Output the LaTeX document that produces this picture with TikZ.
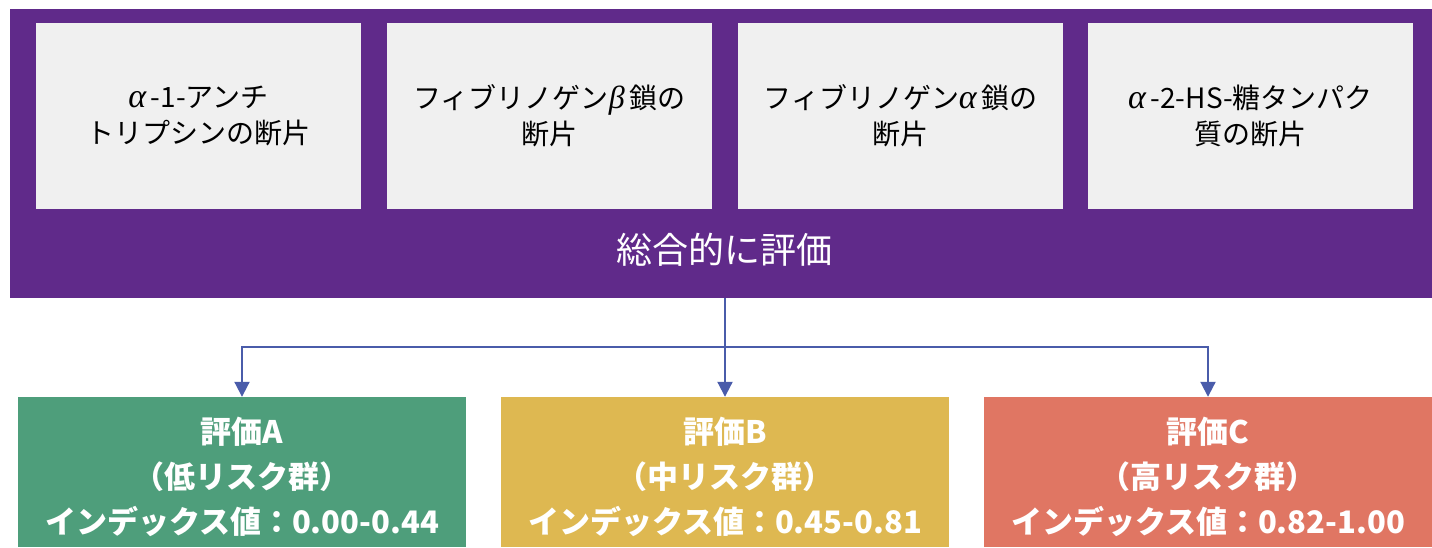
\documentclass[tikz,border=0pt]{standalone}
\usepackage{fontspec}
\setmainfont{Noto Sans CJK JP}
\newfontfamily\greekfont{Liberation Serif}
\usetikzlibrary{arrows.meta}
\definecolor{purpleA}{RGB}{96,42,138}
\definecolor{panelgray}{RGB}{240,240,240}
\definecolor{greenA}{RGB}{78,158,123}
\definecolor{yellowB}{RGB}{222,184,81}
\definecolor{salmonC}{RGB}{224,118,99}
\definecolor{linkblue}{RGB}{74,92,170}
\newcommand\galpha{{\greekfont\itshape\fontsize{34}{36}\selectfont α}\,}
\newcommand\gbeta{{\greekfont\itshape\fontsize{32}{36}\selectfont β}\,}
\newcommand\firstline{\rule{0pt}{37pt}}
\begin{document}
\begin{tikzpicture}[x=1pt,y=-1pt,
  panel/.style={fill=panelgray, draw=none, minimum width=325pt, minimum height=186pt, inner sep=0pt, font=\fontsize{28}{36}\selectfont, align=center, text=black},
  result/.style={draw=none, minimum width=448pt, minimum height=150pt, inner sep=0pt, align=center, text=white, font=\bfseries\fontsize{31}{45}\selectfont},
  conn/.style={draw=linkblue, line width=2pt},
  connarrow/.style={conn, -{Triangle[width=15pt,length=15pt]}}
]
\useasboundingbox (0,0) rectangle (1432,547);
\node[fill=purpleA, minimum width=1422pt, minimum height=289pt, anchor=north west, inner sep=0pt] (outer) at (10,9) {};
\node[panel] (p1) at (198.5,116) {\galpha-1-アンチ\\トリプシンの断片};
\node[panel] (p2) at (549.5,116) {フィブリノゲン\gbeta 鎖の\\断片};
\node[panel] (p3) at (900.5,116) {フィブリノゲン\galpha 鎖の\\断片};
\node[panel] (p4) at (1250.5,116) {\galpha-2-HS-糖タンパク\\質の断片};
\node[text=white, font=\fontsize{36}{40}\selectfont, inner sep=0pt] (summary) at (724,250) {総合的に評価};
\node[result, fill=greenA] (resA) at (242,472) {\firstline 評価A\\（低リスク群）\\インデックス値：0.00-0.44};
\node[result, fill=yellowB] (resB) at (725,472) {\firstline 評価B\\（中リスク群）\\インデックス値：0.45-0.81};
\node[result, fill=salmonC] (resC) at (1208,472) {\firstline 評価C\\（高リスク群）\\インデックス値：0.82-1.00};
\coordinate (junction) at (725,347);
\draw[connarrow] (outer.south -| resB.north) -- (resB.north);
\draw[connarrow] (junction) -| (resA.north);
\draw[connarrow] (junction) -| (resC.north);
\end{tikzpicture}
\end{document}
